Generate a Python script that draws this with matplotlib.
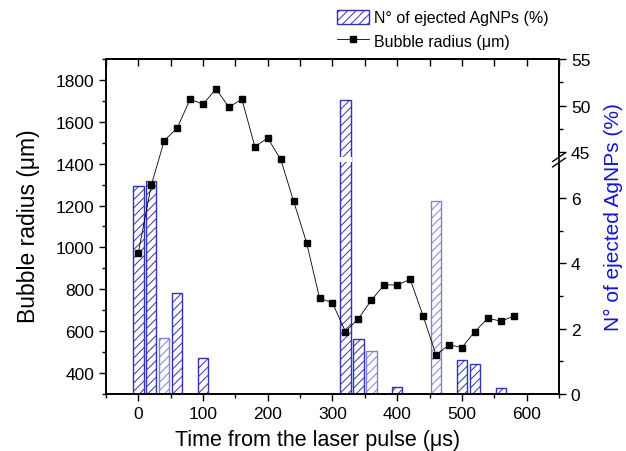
import numpy as np
import matplotlib
matplotlib.use("Agg")
import matplotlib.pyplot as plt
from matplotlib.ticker import FixedLocator, MultipleLocator
from matplotlib.patches import Rectangle, Polygon
from matplotlib.lines import Line2D

plt.rcParams['font.family'] = ['Liberation Sans', 'DejaVu Sans']
plt.rcParams['hatch.linewidth'] = 0.7

# bubble radius vs time
t_bub = [0, 20, 40, 60, 80, 100, 120, 140, 160, 180, 200, 220, 240, 260,
         280, 300, 320, 340, 360, 380, 400, 420, 440, 460, 480, 500, 520,
         540, 560, 580]
r_bub = [975, 1297, 1510, 1570, 1708, 1684, 1757, 1670, 1708, 1482, 1522,
         1420, 1220, 1022, 758, 735, 598, 660, 748, 822, 820, 848, 673, 486,
         535, 522, 598, 662, 648, 671]

# ejected AgNPs (%)
t_np = [0, 20, 40, 60, 100, 320, 340, 360, 400, 460, 500, 520, 560]
n_np = [6.36, 6.53, 1.72, 3.09, 1.10, 50.64, 1.69, 1.32, 0.22, 5.9, 1.04, 0.91, 0.18]

dark = '#3232b4'
light = '#8080d8'
bar_cols = [dark, dark, light, dark, dark, dark, dark, light, dark, light, dark, dark, dark]

# broken right axis: 0..7.1 linear, gap, 44.46..55 compressed
LO_TOP = 7.1
HI_BOT = 44.46
GAP = 0.153
K = 0.286


def fwd(v):
    v = np.asarray(v, dtype=float)
    mid = LO_TOP + (v - LO_TOP) / (HI_BOT - LO_TOP) * GAP
    hi = LO_TOP + GAP + (v - HI_BOT) * K
    return np.where(v <= LO_TOP, v, np.where(v >= HI_BOT, hi, mid))


def inv(u):
    u = np.asarray(u, dtype=float)
    mid = LO_TOP + (u - LO_TOP) / GAP * (HI_BOT - LO_TOP)
    hi = HI_BOT + (u - LO_TOP - GAP) / K
    return np.where(u <= LO_TOP, u, np.where(u >= LO_TOP + GAP, hi, mid))


fig = plt.figure(figsize=(6.26, 4.52), dpi=100)
ax1 = fig.add_axes([0.1693, 0.1261, 0.7237, 0.7412])
ax2 = ax1.twinx()
ax1.set_zorder(ax2.get_zorder() + 1)
ax1.patch.set_visible(False)

ax2.set_yscale('function', functions=(fwd, inv))
bars = ax2.bar(t_np, n_np, width=16, facecolor='white', edgecolor=bar_cols,
               hatch='////', linewidth=1.0, label='N° of ejected AgNPs (%)')
# white gap through the tall bar
for x, h in zip(t_np, n_np):
    if h > HI_BOT:
        ax2.add_patch(Rectangle((x - 10, LO_TOP), 20, HI_BOT - LO_TOP,
                                facecolor='white', edgecolor='none', zorder=5))
ax2.set_ylim(0, 55)
ax2.yaxis.set_major_locator(FixedLocator([0, 2, 4, 6, 45, 50, 55]))
ax2.yaxis.set_minor_locator(FixedLocator([1, 3, 5, 47.5, 52.5]))
ax2.set_ylabel('N° of ejected AgNPs (%)', color='#1414d2', fontsize=15)
ax2.yaxis.set_label_coords(1.10, 0.53)

line, = ax1.plot(t_bub, r_bub, '-', color='black', lw=0.6, marker='s',
                 markersize=5, label='Bubble radius (μm)')
ax1.set_xlim(-50, 650)
ax1.set_ylim(300, 1900)
ax1.xaxis.set_major_locator(MultipleLocator(100))
ax1.xaxis.set_minor_locator(MultipleLocator(50))
ax1.yaxis.set_major_locator(FixedLocator(np.arange(400, 1801, 200)))
ax1.yaxis.set_minor_locator(FixedLocator(np.arange(300, 1901, 100)))
ax1.set_xlabel('Time from the laser pulse (μs)', fontsize=15.5)
ax1.xaxis.set_label_coords(0.468, -0.105)
ax1.set_ylabel('Bubble radius (μm)', fontsize=16.5)
ax1.yaxis.set_label_coords(-0.145, 0.505)

for ax in (ax1, ax2):
    ax.tick_params(which='major', length=5, width=1, labelsize=12.5, direction='out')
    ax.tick_params(which='minor', length=3, width=1, direction='out')
    for s in ax.spines.values():
        s.set_linewidth(1.2)

top = ax1.secondary_xaxis('top')
top.xaxis.set_major_locator(MultipleLocator(100))
top.xaxis.set_minor_locator(MultipleLocator(50))
top.tick_params(which='major', direction='in', length=5, width=1, labeltop=False)
top.tick_params(which='minor', direction='in', length=5, width=1)
top.spines['top'].set_linewidth(1.2)

# break marks on right spine
yb = (fwd(LO_TOP) + fwd(HI_BOT)) / 2 / fwd(55)
dx, dy = 0.014, 0.013
off = 0.008
tr = ax2.transAxes
ax2.add_patch(Polygon([(1 - dx, yb - off - dy), (1 + dx, yb - off + dy),
                       (1 + dx, yb + off + dy), (1 - dx, yb + off - dy)],
                      closed=True, transform=tr, facecolor='white',
                      edgecolor='none', clip_on=False, zorder=10))
for o in (-off, off):
    ax2.add_line(Line2D([1 - dx, 1 + dx], [yb + o - dy, yb + o + dy],
                        transform=tr, color='black', lw=1.0, clip_on=False, zorder=11))

fig.legend([bars, line], ['N° of ejected AgNPs (%)', 'Bubble radius (μm)'],
           loc='upper left', bbox_to_anchor=(0.538, 0.975), frameon=False,
           fontsize=11.5, handlelength=2.0, handleheight=0.9,
           handletextpad=0.3, labelspacing=0.5, borderpad=0, borderaxespad=0)

fig.savefig('out.png', dpi=100)
